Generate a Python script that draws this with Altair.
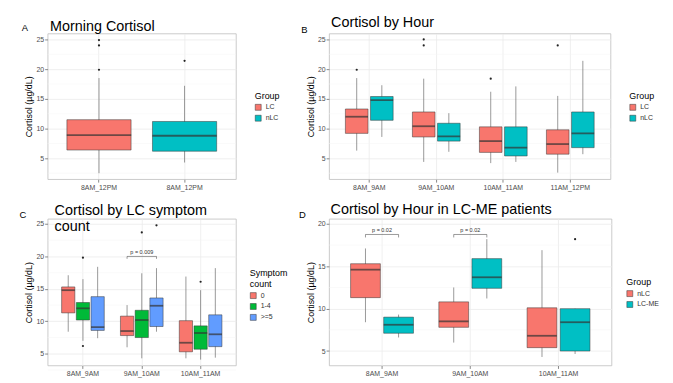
import altair as alt
import pandas as pd

FONT = "Liberation Sans"
RED, TEAL, GREEN, BLUE = "#F8766D", "#00BFC4", "#00BA38", "#619CFF"
Y_TITLE = "Cortisol (µg/dL)"

# ---------------- Panel A: Morning Cortisol ----------------
A_TIME = "8AM_12PM"
A_GROUPS = ["LC", "nLC"]
A_LO = [2.5, 4.3]
A_Q1 = [6.4, 6.2]
A_MED = [8.9, 8.8]
A_Q3 = [11.5, 11.2]
A_HI = [18.5, 17.2]
A_OUT_GROUP = ["LC", "LC", "LC", "nLC"]
A_OUT_VAL = [19.9, 24.0, 24.9, 21.4]

# ---------------- Panel B: Cortisol by Hour ----------------
B_TIMES = ["8AM_9AM", "9AM_10AM", "10AM_11AM", "11AM_12PM"]
B_GROUPS = ["LC", "nLC"]
B_LO = [[6.3, 8.6], [4.4, 6.1], [4.2, 4.4], [2.6, 5.7]]
B_Q1 = [[9.2, 11.4], [8.6, 7.9], [6.0, 5.4], [5.7, 6.8]]
B_MED = [[12.0, 14.8], [10.4, 8.7], [7.9, 6.8], [7.4, 9.2]]
B_Q3 = [[13.3, 15.4], [12.8, 10.9], [10.3, 10.3], [9.8, 12.8]]
B_HI = [[18.5, 17.3], [18.4, 12.6], [16.2, 17.1], [15.5, 21.4]]
B_OUT_TIME = ["8AM_9AM", "9AM_10AM", "9AM_10AM", "10AM_11AM", "11AM_12PM"]
B_OUT_GROUP = ["LC", "LC", "LC", "LC", "LC"]
B_OUT_VAL = [19.9, 25.0, 24.0, 18.4, 24.0]

# ---------------- Panel C: by LC symptom count ----------------
C_TIMES = ["8AM_9AM", "9AM_10AM", "10AM_11AM"]
C_GROUPS = ["0", "1-4", ">=5"]
C_LO = [[8.4, 7.0, 7.4], [6.0, 4.3, 8.4], [4.3, 4.1, 4.4]]
C_Q1 = [[11.3, 10.2, 8.6], [7.8, 7.5, 9.2], [5.3, 5.7, 6.1]]
C_MED = [[14.8, 12.0, 9.1], [8.5, 10.2, 12.4], [6.7, 8.2, 8.0]]
C_Q3 = [[15.3, 12.9, 13.8], [10.8, 11.7, 13.6], [10.1, 9.3, 11.0]]
C_HI = [[17.1, 16.5, 18.4], [12.5, 17.4, 18.2], [16.9, 14.8, 18.2]]
C_OUT_TIME = ["8AM_9AM", "8AM_9AM", "9AM_10AM", "9AM_10AM", "10AM_11AM"]
C_OUT_GROUP = ["1-4", "1-4", "1-4", ">=5", "1-4"]
C_OUT_VAL = [19.8, 6.2, 23.7, 24.8, 16.1]
C_BRACKET_TIME = ["9AM_10AM"]
C_BRACKET_FROM = ["0"]
C_BRACKET_TO = [">=5"]
C_BRACKET_Y = [20.0]
C_BRACKET_LABEL = ["p = 0.009"]

# ---------------- Panel D: LC-ME patients ----------------
D_TIMES = ["8AM_9AM", "9AM_10AM", "10AM_11AM"]
D_GROUPS = ["nLC", "LC-ME"]
D_LO = [[8.4, 6.6], [6.0, 11.2], [4.3, 4.65]]
D_Q1 = [[11.3, 7.1], [7.8, 12.4], [5.4, 5.0]]
D_MED = [[14.6, 8.1], [8.5, 13.7], [6.8, 8.4]]
D_Q3 = [[15.3, 9.0], [10.8, 15.9], [10.1, 10.0]]
D_HI = [[17.1, 9.3], [12.5, 18.2], [16.9, 10.0]]
D_OUT_TIME = ["10AM_11AM"]
D_OUT_GROUP = ["LC-ME"]
D_OUT_VAL = [18.2]
D_BRACKET_TIME = ["8AM_9AM", "9AM_10AM"]
D_BRACKET_FROM = ["nLC", "nLC"]
D_BRACKET_TO = ["LC-ME", "LC-ME"]
D_BRACKET_Y = [18.75, 18.75]
D_BRACKET_LABEL = ["p = 0.02", "p = 0.02"]

MINOR_ABC = [2.5, 7.5, 12.5, 17.5, 22.5]
MINOR_D = [7.5, 12.5, 17.5]


def panel(times, groups, lo, q1, med, q3, hi, out_t, out_g, out_v, colors,
          ydom, yticks, minor, w, h, box_px, legend_title, legend_xy,
          letter, letter_xy, title, title_xy, label_expr=None,
          br=None, br_tick=0.35):
    rows = []
    for i, t in enumerate(times):
        for j, g in enumerate(groups):
            rows.append(dict(t=t, g=g, lo=lo[i][j], q1=q1[i][j], med=med[i][j],
                             q3=q3[i][j], hi=hi[i][j]))
    df = pd.DataFrame(rows)
    odf = pd.DataFrame(dict(t=out_t, g=out_g, v=out_v))
    dodge = label_expr is None
    xfield = "t" if dodge else "g"
    xsort = times if dodge else groups
    axis_kw = dict(title=None, labelAngle=0, bandPosition=0.5, grid=True)
    if label_expr:
        axis_kw["labelExpr"] = label_expr
    xenc = alt.X(f"{xfield}:N", sort=xsort,
                 scale=alt.Scale(paddingInner=0.25, paddingOuter=0.225),
                 axis=alt.Axis(**axis_kw))
    yscale = alt.Scale(domain=ydom, nice=False, zero=False)
    yaxis = alt.Axis(values=yticks, title=Y_TITLE, grid=True,
                     labelOverlap=False, labelFlush=False, tickCount=len(yticks))
    offenc = alt.XOffset("g:N", sort=groups,
                         scale=alt.Scale(paddingInner=0.1, paddingOuter=0.05))
    color = alt.Color("g:N", sort=groups,
                      scale=alt.Scale(domain=groups, range=colors),
                      legend=alt.Legend(title=legend_title, orient="none",
                                        legendX=legend_xy[0], legendY=legend_xy[1]))

    def enc(**kw):
        d = dict(x=xenc)
        if dodge:
            d["xOffset"] = offenc
        d.update(kw)
        return d

    minor_layer = alt.Chart(pd.DataFrame(dict(m=minor))).mark_rule(
        color="#F4F4F4", strokeWidth=0.5).encode(
        y=alt.Y("m:Q", scale=yscale, axis=yaxis))
    whisk = alt.Chart(df).mark_rule(color="#555555", strokeWidth=0.6).encode(
        **enc(y=alt.Y("lo:Q", scale=yscale, axis=yaxis), y2="hi:Q"))
    box = alt.Chart(df).mark_bar(stroke="#333333", strokeWidth=0.5).encode(
        **enc(y=alt.Y("q1:Q", axis=yaxis), y2="q3:Q", color=color))
    medl = alt.Chart(df).mark_tick(color="#333333", thickness=1.8,
                                   size=box_px).encode(
        **enc(y=alt.Y("med:Q", axis=yaxis)))
    outl = alt.Chart(odf).mark_circle(size=5, color="#222222", opacity=1).encode(
        **enc(y=alt.Y("v:Q", axis=yaxis)))
    layers = [minor_layer, whisk, box, medl, outl]

    if br is not None:
        bt, bf, bto, by, blab = br
        lrows, trows = [], []
        for k in range(len(bt)):
            pts = [(bf[k], by[k] - br_tick), (bf[k], by[k]),
                   (bto[k], by[k]), (bto[k], by[k] - br_tick)]
            for o, (g, y) in enumerate(pts):
                lrows.append(dict(id=k, t=bt[k], g=g, y=y, o=o))
            trows.append(dict(t=bt[k], y=by[k], lab=blab[k]))
        ldf = pd.DataFrame(lrows)
        tdf = pd.DataFrame(trows)
        layers.append(alt.Chart(ldf).mark_line(color="#333333", strokeWidth=0.5).encode(
            **enc(y=alt.Y("y:Q", axis=yaxis), detail="id:N", order="o:Q")))
        layers.append(alt.Chart(tdf).mark_text(
            fontSize=5.5, font=FONT, color="#333333", baseline="bottom", dy=-1).encode(
            x=xenc, y=alt.Y("y:Q", axis=yaxis), text="lab:N"))

    letter_layer = alt.Chart(pd.DataFrame(dict(s=[letter]))).mark_text(
        align="center", baseline="alphabetic", fontSize=9.5, font=FONT,
        color="black").encode(text="s:N", x=alt.value(letter_xy[0]),
                              y=alt.value(letter_xy[1]))
    title_layer = alt.Chart(pd.DataFrame(dict(s=[title]))).mark_text(
        align="left", baseline="alphabetic", fontSize=14.5, font=FONT,
        color="black", lineBreak="\n", lineHeight=16).encode(
        text="s:N", x=alt.value(title_xy[0]), y=alt.value(title_xy[1]))
    layers += [letter_layer, title_layer]
    return alt.layer(*layers).properties(width=w, height=h)


pA = panel([A_TIME], A_GROUPS, [A_LO], [A_Q1], [A_MED], [A_Q3], [A_HI],
           [A_TIME] * len(A_OUT_VAL), A_OUT_GROUP, A_OUT_VAL, [RED, TEAL],
           [1.5, 26.0], [5, 10, 15, 20, 25], MINOR_ABC, 190, 147, 65,
           "Group", (209, 59), "A", (-23, -3), "Morning Cortisol", (2.5, -3),
           label_expr=f"'{A_TIME}'")
pB = panel(B_TIMES, B_GROUPS, B_LO, B_Q1, B_MED, B_Q3, B_HI,
           B_OUT_TIME, B_OUT_GROUP, B_OUT_VAL, [RED, TEAL],
           [1.5, 26.0], [5, 10, 15, 20, 25], MINOR_ABC, 284, 147, 22.8,
           "Group", (303, 59), "B", (-25, 0), "Cortisol by Hour", (2, -6.5))
pC = panel(C_TIMES, C_GROUPS, C_LO, C_Q1, C_MED, C_Q3, C_HI,
           C_OUT_TIME, C_OUT_GROUP, C_OUT_VAL, [RED, GREEN, BLUE],
           [3.2, 25.8], [5, 10, 15, 20, 25], MINOR_ABC, 190, 148, 13.4,
           ["Symptom", "count"], (204, 51), "C", (-25, -1),
           "Cortisol by LC symptom\ncount", (7, -3.5),
           br=(C_BRACKET_TIME, C_BRACKET_FROM, C_BRACKET_TO, C_BRACKET_Y, C_BRACKET_LABEL),
           br_tick=0.37)
pD = panel(D_TIMES, D_GROUPS, D_LO, D_Q1, D_MED, D_Q3, D_HI,
           D_OUT_TIME, D_OUT_GROUP, D_OUT_VAL, [RED, TEAL],
           [3.3, 20.6], [5, 10, 15, 20], MINOR_D, 285, 148, 30,
           "Group", (300, 60), "D", (-27, -1),
           "Cortisol by Hour in LC-ME patients", (1.5, -4.5),
           br=(D_BRACKET_TIME, D_BRACKET_FROM, D_BRACKET_TO, D_BRACKET_Y, D_BRACKET_LABEL),
           br_tick=0.35)

chart = alt.concat(pA, pB, pC, pD, columns=2, bounds="flush",
                   spacing={"row": 40, "column": 94}).resolve_scale(
    x="independent", y="independent", color="independent", xOffset="independent"
).resolve_legend(color="independent").properties(
    padding={"left": 11, "top": 5, "right": 5, "bottom": 5}
).configure_view(stroke="#BDBDBD", strokeWidth=0.8).configure_axis(
    labelFont=FONT, titleFont=FONT, labelFontSize=7, labelColor="#4D4D4D",
    titleFontSize=9, titleFontWeight="normal", titleColor="black",
    tickColor="#888888", tickSize=3, domain=False, gridColor="#EBEBEB",
    gridWidth=0.8, labelPadding=1, titlePadding=2
).configure_legend(
    titleFont=FONT, labelFont=FONT, titleFontSize=9, titleFontWeight="normal",
    titleColor="black", labelFontSize=7, labelColor="#333333",
    symbolType="square", symbolSize=36, symbolStrokeColor="#333333",
    symbolStrokeWidth=0.5, rowPadding=2, titlePadding=3, padding=0,
    symbolOpacity=1
)

chart.save("out.html", embed_options={"renderer": "svg", "actions": False})
